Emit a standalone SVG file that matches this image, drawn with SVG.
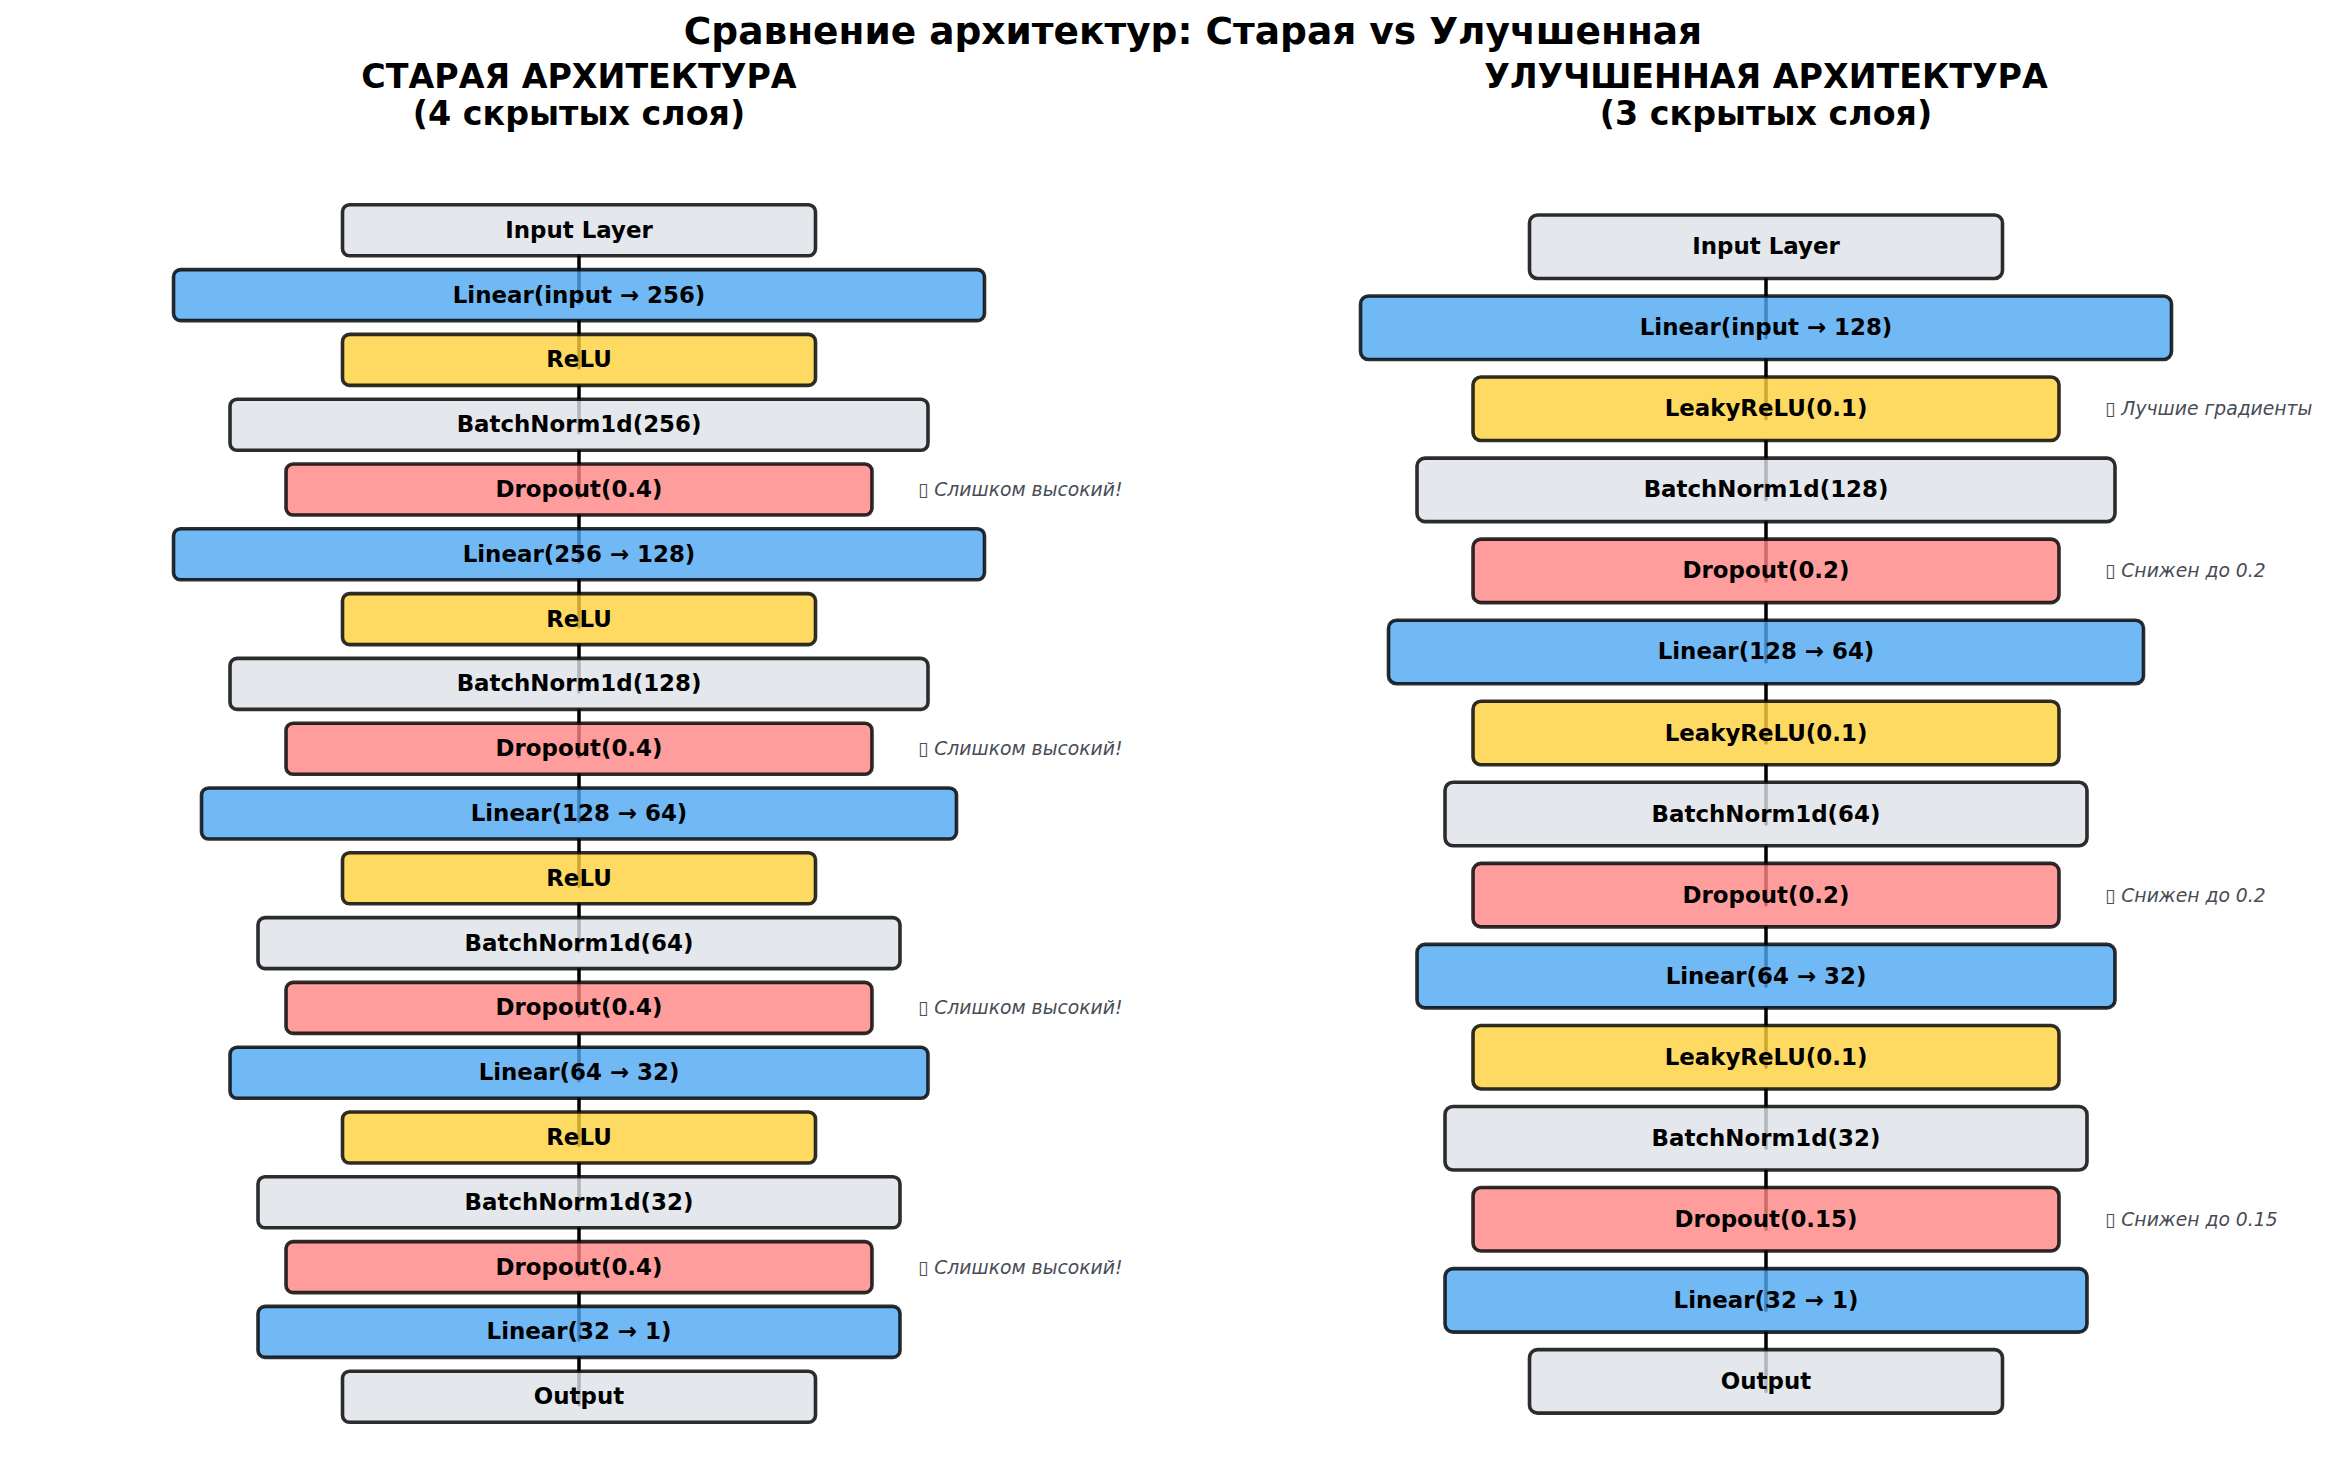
<svg xmlns="http://www.w3.org/2000/svg" width="2345" height="1477" viewBox="0 0 2345 1477">
<style>
text{font-family:"DejaVu Sans","Liberation Sans",sans-serif}
.title{font-size:37.5px;font-weight:bold;text-anchor:middle;fill:#000}
.sub{font-size:33.3px;font-weight:bold;text-anchor:middle;fill:#000}
.lbl{font-size:22.9px;font-weight:bold;text-anchor:middle;fill:#000}
.ann{font-size:18.75px;font-style:italic;fill:#474c55}
rect{stroke:#000;stroke-opacity:0.82;stroke-width:3.6;fill-opacity:0.8}
.l rect{rx:7px;ry:7px}
.r rect{rx:8px;ry:8px}
.gray{fill:#dde1e6}
.blue{fill:#4ca8f3}
.yel{fill:#fed13b}
.red{fill:#ff8585}
.conn{stroke:#000;stroke-width:3.5;stroke-linecap:round;fill:none}
</style>
<rect x="0" y="0" width="2345" height="1477" style="fill:#fff;stroke:none;fill-opacity:1"/>
<text class="title" x="1193" y="44">Сравнение архитектур: Старая vs Улучшенная</text>
<text class="sub" x="579" y="88">СТАРАЯ АРХИТЕКТУРА</text>
<text class="sub" x="579" y="125">(4 скрытых слоя)</text>
<text class="sub" x="1766" y="88">УЛУЧШЕННАЯ АРХИТЕКТУРА</text>
<text class="sub" x="1766" y="125">(3 скрытых слоя)</text>

<g id="connectors">
<path class="conn" d="M579 255.8V303.1M579 320.6V367.9M579 385.4V432.7M579 450.2V497.5M579 515V562.3M579 579.8V627.1M579 644.6V691.9M579 709.4V756.7M579 774.2V821.5M579 839V886.3M579 903.8V951.1M579 968.6V1015.9M579 1033.4V1080.7M579 1098.2V1145.5M579 1163V1210.3M579 1227.8V1275.1M579 1292.6V1339.9M579 1357.4V1404.7"/>
<path class="conn" d="M1766 278.45V337.75M1766 359.5V418.8M1766 440.55V499.85M1766 521.6V580.9M1766 602.65V661.95M1766 683.7V743M1766 764.75V824.05M1766 845.8V905.1M1766 926.85V986.15M1766 1007.9V1067.2M1766 1088.95V1148.25M1766 1170V1229.3M1766 1251.05V1310.35M1766 1332.1V1391.4"/>
</g>

<g class="l">
<g id="old-input"><rect class="gray" x="342.5" y="204.8" width="473" height="51"/><text class="lbl" x="579" y="237.8">Input Layer</text></g>
<g id="old-linear1"><rect class="blue" x="173.5" y="269.6" width="811" height="51"/><text class="lbl" x="579" y="302.6">Linear(input → 256)</text></g>
<g id="old-relu1"><rect class="yel" x="342.5" y="334.4" width="473" height="51"/><text class="lbl" x="579" y="367.4">ReLU</text></g>
<g id="old-bn1"><rect class="gray" x="230" y="399.2" width="698" height="51"/><text class="lbl" x="579" y="432.2">BatchNorm1d(256)</text></g>
<g id="old-drop1"><rect class="red" x="286" y="464" width="586" height="51"/><text class="lbl" x="579" y="497">Dropout(0.4)</text><text class="ann" x="918" y="496">▯ Слишком высокий!</text></g>
<g id="old-linear2"><rect class="blue" x="173.5" y="528.8" width="811" height="51"/><text class="lbl" x="579" y="561.8">Linear(256 → 128)</text></g>
<g id="old-relu2"><rect class="yel" x="342.5" y="593.6" width="473" height="51"/><text class="lbl" x="579" y="626.6">ReLU</text></g>
<g id="old-bn2"><rect class="gray" x="230" y="658.4" width="698" height="51"/><text class="lbl" x="579" y="691.4">BatchNorm1d(128)</text></g>
<g id="old-drop2"><rect class="red" x="286" y="723.2" width="586" height="51"/><text class="lbl" x="579" y="756.2">Dropout(0.4)</text><text class="ann" x="918" y="755.2">▯ Слишком высокий!</text></g>
<g id="old-linear3"><rect class="blue" x="201.5" y="788" width="755" height="51"/><text class="lbl" x="579" y="821">Linear(128 → 64)</text></g>
<g id="old-relu3"><rect class="yel" x="342.5" y="852.8" width="473" height="51"/><text class="lbl" x="579" y="885.8">ReLU</text></g>
<g id="old-bn3"><rect class="gray" x="258" y="917.6" width="642" height="51"/><text class="lbl" x="579" y="950.6">BatchNorm1d(64)</text></g>
<g id="old-drop3"><rect class="red" x="286" y="982.4" width="586" height="51"/><text class="lbl" x="579" y="1015.4">Dropout(0.4)</text><text class="ann" x="918" y="1014.4">▯ Слишком высокий!</text></g>
<g id="old-linear4"><rect class="blue" x="230" y="1047.2" width="698" height="51"/><text class="lbl" x="579" y="1080.2">Linear(64 → 32)</text></g>
<g id="old-relu4"><rect class="yel" x="342.5" y="1112" width="473" height="51"/><text class="lbl" x="579" y="1145">ReLU</text></g>
<g id="old-bn4"><rect class="gray" x="258" y="1176.8" width="642" height="51"/><text class="lbl" x="579" y="1209.8">BatchNorm1d(32)</text></g>
<g id="old-drop4"><rect class="red" x="286" y="1241.6" width="586" height="51"/><text class="lbl" x="579" y="1274.6">Dropout(0.4)</text><text class="ann" x="918" y="1273.6">▯ Слишком высокий!</text></g>
<g id="old-linear5"><rect class="blue" x="258" y="1306.4" width="642" height="51"/><text class="lbl" x="579" y="1339.4">Linear(32 → 1)</text></g>
<g id="old-output"><rect class="gray" x="342.5" y="1371.2" width="473" height="51"/><text class="lbl" x="579" y="1404.2">Output</text></g>
</g>

<g class="r">
<g id="new-input"><rect class="gray" x="1529.5" y="214.95" width="473" height="63.5"/><text class="lbl" x="1766" y="254.2">Input Layer</text></g>
<g id="new-linear1"><rect class="blue" x="1360.5" y="296" width="811" height="63.5"/><text class="lbl" x="1766" y="335.25">Linear(input → 128)</text></g>
<g id="new-lrelu1"><rect class="yel" x="1473" y="377.05" width="586" height="63.5"/><text class="lbl" x="1766" y="416.3">LeakyReLU(0.1)</text><text class="ann" x="2105" y="415.3">▯ Лучшие градиенты</text></g>
<g id="new-bn1"><rect class="gray" x="1417" y="458.1" width="698" height="63.5"/><text class="lbl" x="1766" y="497.35">BatchNorm1d(128)</text></g>
<g id="new-drop1"><rect class="red" x="1473" y="539.15" width="586" height="63.5"/><text class="lbl" x="1766" y="578.4">Dropout(0.2)</text><text class="ann" x="2105" y="577.4">▯ Снижен до 0.2</text></g>
<g id="new-linear2"><rect class="blue" x="1388.5" y="620.2" width="755" height="63.5"/><text class="lbl" x="1766" y="659.45">Linear(128 → 64)</text></g>
<g id="new-lrelu2"><rect class="yel" x="1473" y="701.25" width="586" height="63.5"/><text class="lbl" x="1766" y="740.5">LeakyReLU(0.1)</text></g>
<g id="new-bn2"><rect class="gray" x="1445" y="782.3" width="642" height="63.5"/><text class="lbl" x="1766" y="821.55">BatchNorm1d(64)</text></g>
<g id="new-drop2"><rect class="red" x="1473" y="863.35" width="586" height="63.5"/><text class="lbl" x="1766" y="902.6">Dropout(0.2)</text><text class="ann" x="2105" y="901.6">▯ Снижен до 0.2</text></g>
<g id="new-linear3"><rect class="blue" x="1417" y="944.4" width="698" height="63.5"/><text class="lbl" x="1766" y="983.65">Linear(64 → 32)</text></g>
<g id="new-lrelu3"><rect class="yel" x="1473" y="1025.45" width="586" height="63.5"/><text class="lbl" x="1766" y="1064.7">LeakyReLU(0.1)</text></g>
<g id="new-bn3"><rect class="gray" x="1445" y="1106.5" width="642" height="63.5"/><text class="lbl" x="1766" y="1145.75">BatchNorm1d(32)</text></g>
<g id="new-drop3"><rect class="red" x="1473" y="1187.55" width="586" height="63.5"/><text class="lbl" x="1766" y="1226.8">Dropout(0.15)</text><text class="ann" x="2105" y="1225.8">▯ Снижен до 0.15</text></g>
<g id="new-linear4"><rect class="blue" x="1445" y="1268.6" width="642" height="63.5"/><text class="lbl" x="1766" y="1307.85">Linear(32 → 1)</text></g>
<g id="new-output"><rect class="gray" x="1529.5" y="1349.65" width="473" height="63.5"/><text class="lbl" x="1766" y="1388.9">Output</text></g>
</g>
</svg>
